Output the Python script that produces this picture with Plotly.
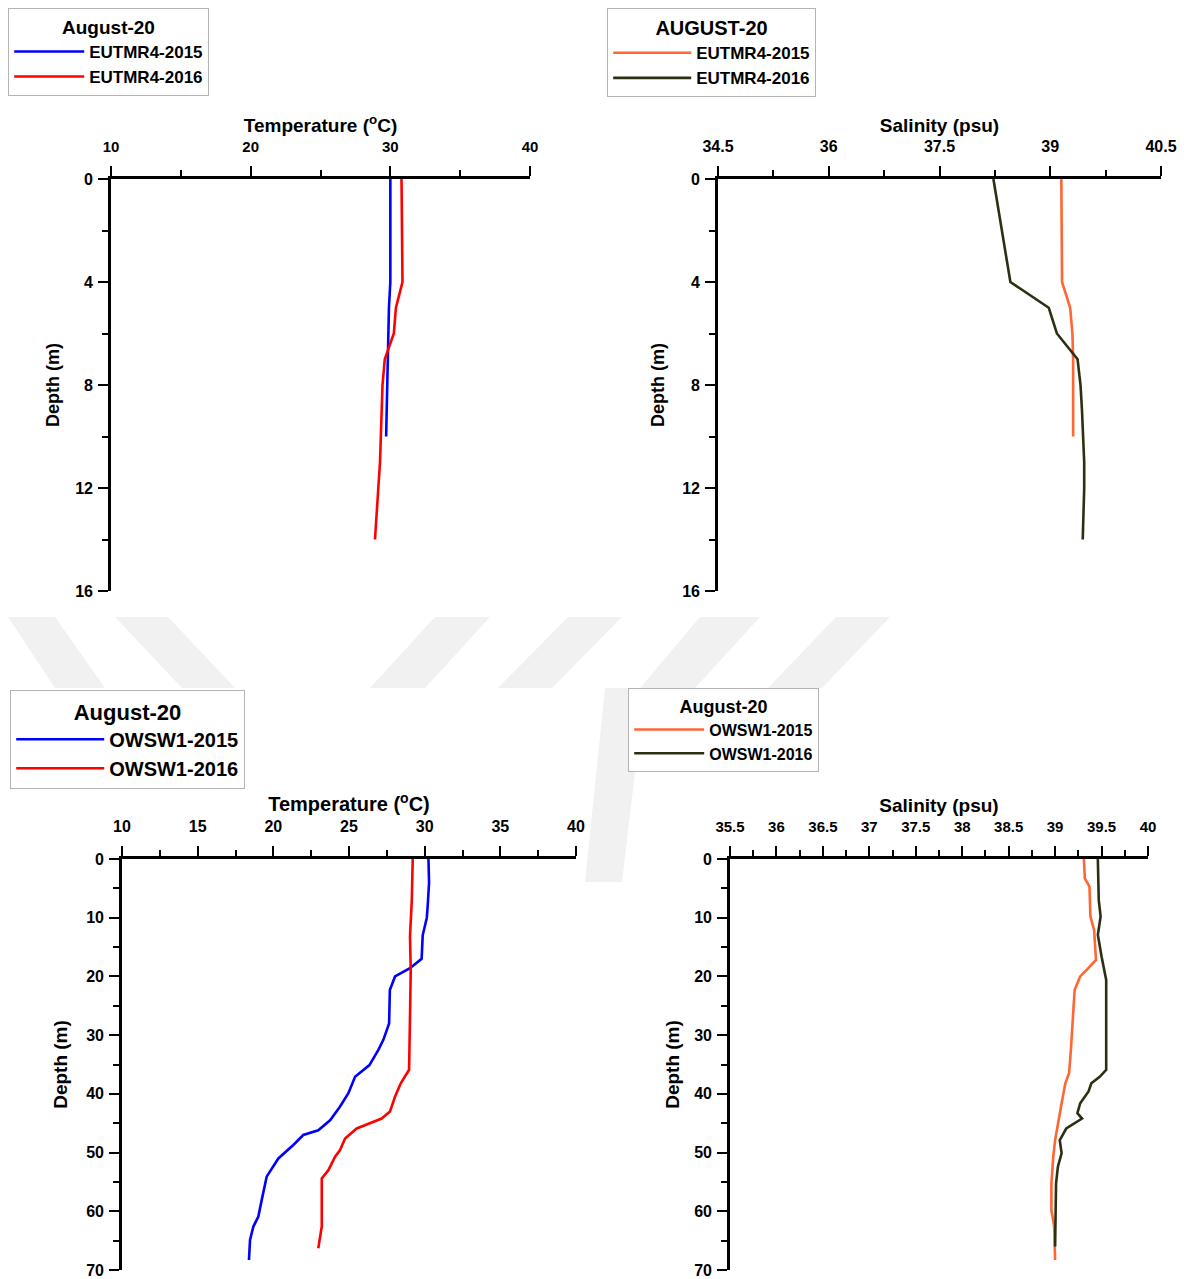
import plotly.graph_objects as go

# ---------------- data ----------------
# Panel 1: EUTMR4 temperature
p1_depth_2015 = [0, 1, 2, 3, 4, 5, 6, 7, 8, 9, 10]
p1_temp_2015 = [30.0, 30.0, 30.0, 30.0, 30.0, 29.9, 29.85, 29.8, 29.75, 29.7, 29.7]
p1_depth_2016 = [0, 1, 2, 3, 4, 5, 6, 7, 8, 9, 10, 11, 12, 13, 14]
p1_temp_2016 = [30.8, 30.82, 30.84, 30.85, 30.87, 30.4, 30.25, 29.6, 29.44, 29.38,
                29.32, 29.26, 29.14, 29.02, 28.9]

# Panel 2: EUTMR4 salinity
p2_depth_2015 = [0, 1, 2, 3, 4, 5, 6, 7, 8, 9, 10]
p2_sal_2015 = [39.15, 39.15, 39.15, 39.15, 39.16, 39.27, 39.30, 39.31, 39.31, 39.31, 39.31]
p2_depth_2016 = [0, 1, 2, 3, 4, 5, 6, 7, 8, 9, 10, 11, 12, 13, 14]
p2_sal_2016 = [38.23, 38.29, 38.35, 38.41, 38.46, 38.98, 39.09, 39.37, 39.41, 39.43,
               39.45, 39.46, 39.46, 39.45, 39.44]

# Panel 3: OWSW1 temperature
p3_depth_2015 = [0, 4, 8, 10, 13, 17, 18.6, 20, 22.3, 28, 30.8, 32.5, 35.1, 37.1, 39.9,
                 42.2, 44.5, 46.2, 47, 48.7, 51, 54.1, 58.1, 60.9, 62.6, 64.9, 68.3]
p3_temp_2015 = [30.25, 30.29, 30.2, 30.14, 29.87, 29.8, 29.03, 28.04, 27.7, 27.65, 27.27,
                26.94, 26.35, 25.4, 24.96, 24.4, 23.75, 22.97, 21.98, 21.32, 20.33, 19.56,
                19.23, 19.01, 18.68, 18.46, 18.39]
p3_depth_2016 = [0, 7, 13.2, 18.9, 26.9, 35.9, 38.2, 40.5, 43, 44.2, 45.9, 47.6, 49.6,
                 50.7, 53, 54.4, 62.6, 66.3]
p3_temp_2016 = [29.21, 29.15, 29.03, 29.08, 29.03, 28.97, 28.42, 28.04, 27.71, 27.16,
                25.51, 24.74, 24.4, 24.08, 23.64, 23.2, 23.2, 22.97]

# Panel 4: OWSW1 salinity
p4_depth_2015 = [0, 3.3, 4.7, 9.8, 12.1, 17.2, 18.9, 20, 22.3, 28, 32.5, 36.5, 38.2,
                 41.6, 45, 47.9, 50.7, 55.3, 59.8, 62.6, 68.3]
p4_sal_2015 = [39.31, 39.32, 39.37, 39.38, 39.42, 39.44, 39.34, 39.27, 39.21, 39.19,
               39.17, 39.15, 39.11, 39.07, 39.03, 39.0, 38.98, 38.96, 38.96, 38.99, 39.0]
p4_depth_2016 = [0, 7, 9.8, 12.9, 16.6, 20.6, 35.9, 37.1, 38.2, 39.6, 41.6, 43.3, 44.2,
                 45.9, 47.9, 50.1, 52.4, 55.3, 66]
p4_sal_2016 = [39.46, 39.47, 39.49, 39.46, 39.5, 39.55, 39.55, 39.48, 39.39, 39.36,
               39.27, 39.24, 39.29, 39.12, 39.05, 39.07, 39.03, 39.01, 39.0]

# ---------------- figure ----------------
# the page body keeps its default 8px margin, so the figure is placed 8px in
OFF = 8
W, H = 1192 - OFF, 1279 - OFF
FONT = "Arial, Liberation Sans, sans-serif"
BLUE, RED, ORANGE, DARK = "#0000ff", "#ff0000", "#ff6633", "#2e2e12"


def px_x(x):
    return (x - OFF) / W


def px_y(y):
    return 1 - (y - OFF) / H


fig = go.Figure()

traces = [
    (p1_temp_2015, p1_depth_2015, "EUTMR4-2015", BLUE, "x", "y", "legend"),
    (p1_temp_2016, p1_depth_2016, "EUTMR4-2016", RED, "x", "y", "legend"),
    (p2_sal_2015, p2_depth_2015, "EUTMR4-2015", ORANGE, "x2", "y2", "legend2"),
    (p2_sal_2016, p2_depth_2016, "EUTMR4-2016", DARK, "x2", "y2", "legend2"),
    (p3_temp_2015, p3_depth_2015, "OWSW1-2015", BLUE, "x3", "y3", "legend3"),
    (p3_temp_2016, p3_depth_2016, "OWSW1-2016", RED, "x3", "y3", "legend3"),
    (p4_sal_2015, p4_depth_2015, "OWSW1-2015", ORANGE, "x4", "y4", "legend4"),
    (p4_sal_2016, p4_depth_2016, "OWSW1-2016", DARK, "x4", "y4", "legend4"),
]
for xv, yv, name, col, xa, ya, lg in traces:
    fig.add_trace(go.Scatter(x=xv, y=yv, mode="lines", name=name,
                             line=dict(color=col, width=2.6),
                             xaxis=xa, yaxis=ya, legend=lg))


def xaxis_cfg(left, right, rng, dtick, minor, title, tfs, lfs, anchor):
    return dict(
        domain=[px_x(left), px_x(right)], range=rng, side="top", anchor=anchor,
        automargin=False,
        showline=True, linecolor="black", linewidth=2.6, mirror=False,
        showgrid=False, zeroline=False,
        ticks="outside", ticklen=10, tickwidth=2.4, tickcolor="black",
        dtick=dtick, tick0=rng[0],
        minor=dict(ticks="outside", ticklen=6, tickwidth=2, tickcolor="black",
                   dtick=minor, showgrid=False),
        tickfont=dict(family=FONT, size=lfs, color="black", weight="bold"),
        ticklabelstandoff=8,
        title=dict(text=title, font=dict(family=FONT, size=tfs, color="black", weight="bold"),
                   standoff=1),
        fixedrange=True,
    )


def yaxis_cfg(top, bottom, rng, dtick, minor, tfs, lfs, anchor, standoff):
    return dict(
        domain=[px_y(bottom), px_y(top)], range=rng, anchor=anchor,
        automargin=False,
        showline=True, linecolor="black", linewidth=2.6, mirror=False,
        showgrid=False, zeroline=False,
        ticks="outside", ticklen=10, tickwidth=2.4, tickcolor="black",
        dtick=dtick, tick0=0,
        minor=dict(ticks="outside", ticklen=6, tickwidth=2, tickcolor="black",
                   dtick=minor, showgrid=False),
        tickfont=dict(family=FONT, size=lfs, color="black", weight="bold"),
        ticklabelstandoff=2,
        title=dict(text="Depth (m)", font=dict(family=FONT, size=tfs, color="black", weight="bold"),
                   standoff=standoff),
        fixedrange=True,
    )


temp_title = "Temperature (<sup>o</sup>C)"
sal_title = "Salinity (psu)"

fig.update_layout(
    width=W, height=H,
    margin=dict(l=0, r=0, t=0, b=0, autoexpand=False),
    paper_bgcolor="white", plot_bgcolor="rgba(0,0,0,0)",
    xaxis=xaxis_cfg(111, 530, [10, 40], 10, 5, temp_title, 19, 15, "y"),
    yaxis=yaxis_cfg(179, 591, [16, 0], 4, 2, 18, 16, "x", 11),
    xaxis2=xaxis_cfg(718, 1161, [34.5, 40.5], 1.5, 0.75, sal_title, 19, 16, "y2"),
    yaxis2=yaxis_cfg(179, 591, [16, 0], 4, 2, 18, 16, "x2", 13),
    xaxis3=xaxis_cfg(122, 576, [10, 40], 5, 2.5, temp_title, 20, 16, "y3"),
    yaxis3=yaxis_cfg(859, 1270, [70, 0], 10, 5, 19, 16, "x3", 14),
    xaxis4=xaxis_cfg(730, 1148, [35.5, 40], 0.5, 0.25, sal_title, 19, 15, "y4"),
    yaxis4=yaxis_cfg(859, 1270, [70, 0], 10, 5, 19, 16, "x4", 10),
    showlegend=True,
)


def legend_cfg(left, top, title, tfs, efs, iw):
    return dict(
        x=px_x(left), y=px_y(top), xanchor="left", yanchor="top",
        bgcolor="white", bordercolor="#b4b4b4", borderwidth=1.2,
        title=dict(text=title, side="top center",
                   font=dict(family=FONT, size=tfs, color="black", weight="bold")),
        font=dict(family=FONT, size=efs, color="black", weight="bold"),
        itemwidth=iw, tracegroupgap=0, itemclick=False, itemdoubleclick=False,
    )


fig.update_layout(
    legend=legend_cfg(8, 8, "August-20", 19, 17, 70),
    legend2=legend_cfg(607, 8, "AUGUST-20", 20, 17, 78),
    legend3=legend_cfg(10, 690, "August-20", 22, 20, 88),
    legend4=legend_cfg(628, 688, "August-20", 18, 16, 70),
)

# faint background watermark stripes
wm = "#f1f1f1"
polys = [
    [(8, 617), (55, 617), (105, 688), (55, 688)],
    [(115, 617), (168, 617), (235, 688), (182, 688)],
    [(435, 617), (490, 617), (425, 688), (370, 688)],
    [(568, 617), (622, 617), (552, 688), (498, 688)],
    [(700, 617), (760, 617), (695, 688), (640, 688)],
    [(836, 617), (890, 617), (822, 688), (768, 688)],
    [(605, 688), (645, 688), (622, 882), (585, 882)],
]
for poly in polys:
    path = "M " + " L ".join(f"{px_x(x):.5f},{px_y(y):.5f}" for x, y in poly) + " Z"
    fig.add_shape(type="path", path=path, xref="paper", yref="paper",
                  fillcolor=wm, line=dict(width=0), layer="below")

fig.write_html("out.html")
